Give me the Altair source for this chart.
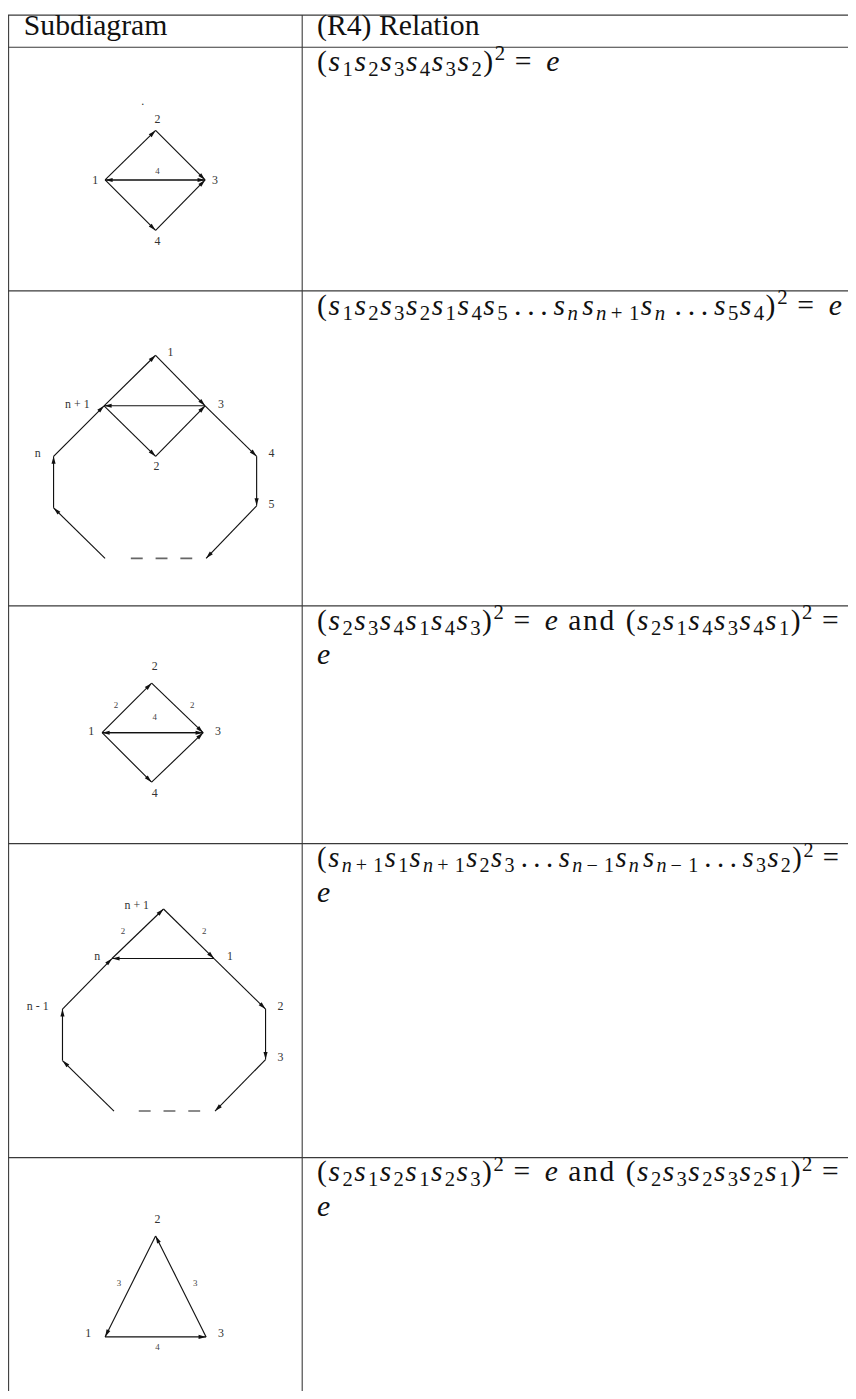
import math
import re
import altair as alt
import pandas as pd

# ---------------- table frame (page pixels) ----------------
ROW_LINES = [41, 287, 605, 845, 1162]          # rules under header and rows 1-4
TABLE_TOP = 8.6
TABLE_LEFT = 8.6
COL_DIVIDER = 305
TABLE_RIGHT = 870
TABLE_BOTTOM = 1400

HEADERS = ["Subdiagram", "(R4) Relation"]
HEADER_X = [24, 320]
HEADER_BASELINE = 29

# ---------------- relations (right column) ----------------
RELATIONS = [
    [r"(s_1s_2s_3s_4s_3s_2)^2 = e"],
    [r"(s_1s_2s_3s_2s_1s_4s_5\ldots s_ns_{n+1}s_n\ldots s_5s_4)^2 = e"],
    [r"(s_2s_3s_4s_1s_4s_3)^2 = e\text{ and }(s_2s_1s_4s_3s_4s_1)^2 =", "e"],
    [r"(s_{n+1}s_1s_{n+1}s_2s_3\ldots s_{n-1}s_ns_{n-1}\ldots s_3s_2)^2 =", "e"],
    [r"(s_2s_1s_2s_1s_2s_3)^2 = e\text{ and }(s_2s_3s_2s_3s_2s_1)^2 =", "e"],
]
REL_X = 320
REL_RIGHT = 853

# ---------------- diagrams (left column) ----------------
D1_NODES = {"1": (106, 175), "2": (157, 125), "3": (207, 175), "4": (157, 226)}
D1_EDGES = [("1", "2"), ("2", "3"), ("1", "4"), ("4", "3"), ("3", "1"), ("1", "3")]
D1_NODE_LABELS = [("1", 96, 175), ("2", 159, 114), ("3", 217, 175), ("4", 159, 237), (".", 144, 95)]
D1_EDGE_LABELS = [("4", 159, 166)]

D2_NODES = {"1": (157, 352), "n+1": (105, 403), "3": (207, 403), "2": (157, 454),
            "4": (259, 454), "5": (259, 504), "n": (54, 454), "a": (54, 506),
            "b": (106, 557), "c": (208, 557)}
D2_EDGES = [("n+1", "1"), ("1", "3"), ("3", "4"), ("4", "5"), ("5", "c"), ("b", "a"),
            ("a", "n"), ("n", "n+1"), ("3", "n+1"), ("n+1", "2"), ("2", "3")]
D2_NODE_LABELS = [("1", 172, 349), ("n + 1", 78, 401), ("3", 223, 401), ("2", 158, 464),
                  ("4", 274, 451), ("5", 274, 502), ("n", 38, 451)]
D2_EDGE_LABELS = []
D2_GAP = (132, 195, 557)

D3_NODES = {"1": (103, 733), "2": (153, 683), "3": (205, 733), "4": (153, 783)}
D3_EDGES = [("1", "2"), ("2", "3"), ("3", "1"), ("1", "3"), ("1", "4"), ("4", "3")]
D3_NODE_LABELS = [("1", 92, 731), ("2", 156, 666), ("3", 220, 731), ("4", 156, 794)]
D3_EDGE_LABELS = [("4", 156, 717), ("2", 117, 705), ("2", 194, 705)]

D4_NODES = {"n+1": (165, 911), "1": (216, 961), "n": (113, 961), "2": (268, 1012),
            "3": (268, 1063), "n-1": (63, 1012), "a": (63, 1064), "b": (115, 1115),
            "c": (217, 1115)}
D4_EDGES = [("n", "n+1"), ("n+1", "1"), ("1", "n"), ("1", "2"), ("2", "3"), ("3", "c"),
            ("b", "a"), ("a", "n-1"), ("n-1", "n")]
D4_NODE_LABELS = [("n + 1", 138, 907), ("n", 98, 958), ("1", 232, 958), ("n - 1", 38, 1009),
                  ("2", 283, 1009), ("3", 283, 1060)]
D4_EDGE_LABELS = [("2", 124, 933), ("2", 206, 933)]
D4_GAP = (140, 203, 1115)

D5_NODES = {"2": (157, 1241), "1": (106, 1343), "3": (208, 1343)}
D5_EDGES = [("2", "1"), ("3", "2"), ("1", "3")]
D5_NODE_LABELS = [("2", 159, 1224), ("1", 89, 1339), ("3", 223, 1339)]
D5_EDGE_LABELS = [("3", 120, 1289), ("3", 197, 1289), ("4", 159, 1353)]

DIAGRAMS = [
    (D1_NODES, D1_EDGES, D1_NODE_LABELS, D1_EDGE_LABELS),
    (D2_NODES, D2_EDGES, D2_NODE_LABELS, D2_EDGE_LABELS),
    (D3_NODES, D3_EDGES, D3_NODE_LABELS, D3_EDGE_LABELS),
    (D4_NODES, D4_EDGES, D4_NODE_LABELS, D4_EDGE_LABELS),
    (D5_NODES, D5_EDGES, D5_NODE_LABELS, D5_EDGE_LABELS),
]
GAPS = [D2_GAP, D4_GAP]

SERIF = "'Liberation Serif', 'Times New Roman', 'DejaVu Serif', serif"

# ---------------- build tables ----------------
table_rows = [dict(x=8, x2=TABLE_RIGHT, y=TABLE_TOP, y2=TABLE_TOP)]
for yl in ROW_LINES:
    table_rows.append(dict(x=8, x2=TABLE_RIGHT, y=yl, y2=yl))
table_rows.append(dict(x=TABLE_LEFT, x2=TABLE_LEFT, y=TABLE_TOP, y2=TABLE_BOTTOM))
table_rows.append(dict(x=COL_DIVIDER, x2=COL_DIVIDER, y=TABLE_TOP, y2=TABLE_BOTTOM))
table_df = pd.DataFrame(table_rows)

edge_rows, node_lab, edge_lab = [], [], []
for nodes, edges, nlabels, elabels in DIAGRAMS:
    for a, b in edges:
        (x1, y1), (x2, y2) = nodes[a], nodes[b]
        ang = math.degrees(math.atan2(x2 - x1, -(y2 - y1))) % 360
        edge_rows.append(dict(x=x1, y=y1, x2=x2, y2=y2, angle=ang))
    node_lab += [dict(t=t, x=x, y=y) for t, x, y in nlabels]
    edge_lab += [dict(t=t, x=x, y=y) for t, x, y in elabels]
edge_df = pd.DataFrame(edge_rows)
node_df = pd.DataFrame(node_lab)
elab_df = pd.DataFrame(edge_lab)
gap_df = pd.DataFrame([dict(x=a, x2=b, y=y) for a, b, y in GAPS])
head_df = pd.DataFrame([dict(t=t, x=x, y=HEADER_BASELINE) for t, x in zip(HEADERS, HEADER_X)])

# ---------------- math typesetting (TeX-like advances) ----------------
F0 = 30.0
ROMAN_W = {"(": .389, ")": .389, "=": .778, ".": .278, "a": .5, "n": .556, "d": .556}
ITALIC_W = {"s": .469, "e": .466}
SCRIPT_W = {"n": .494, "+": .614, "-": .614}
DIGIT_SCRIPT_W = .398
THIN, THICK, SPACE = 1 / 6, 5 / 18, .333
SUB_DROP, SUP_RAISE, SCRIPT = .17, .36, .7
TOKEN = re.compile(r"\\text\{([^}]*)\}|\\ldots|s_\{([^}]*)\}|s_(\w)|\^(\d)|([()=e])|\s+")


def layout(src, x0, y0, F):
    out = []
    pos = [x0]

    def put(ch, w, italic, scale=1.0, dy=0.0):
        out.append(dict(t=ch, x=pos[0], y=y0 + dy * F, size=F * scale, italic=italic))
        pos[0] += w * F

    for m in TOKEN.finditer(src):
        tok = m.group(0)
        text, subg, sub1, sup, sym = m.groups()
        if text is not None:
            for ch in text:
                if ch == " ":
                    pos[0] += SPACE * F
                else:
                    put(ch, ROMAN_W.get(ch, .5), False)
        elif tok == r"\ldots":
            pos[0] += THIN * F
            for i in range(3):
                put(".", ROMAN_W["."], False)
                pos[0] += THIN * F
        elif subg is not None or sub1 is not None:
            sub = subg if subg is not None else sub1
            put("s", ITALIC_W["s"], True)
            for ch in sub:
                if ch.isdigit():
                    put(ch, DIGIT_SCRIPT_W, False, SCRIPT, SUB_DROP)
                elif ch.isalpha():
                    put(ch, SCRIPT_W.get(ch, .45), True, SCRIPT, SUB_DROP)
                else:
                    put("\u2212" if ch == "-" else ch, SCRIPT_W.get(ch, .6), False, SCRIPT, SUB_DROP)
        elif sup is not None:
            put(sup, DIGIT_SCRIPT_W, False, SCRIPT, -SUP_RAISE)
        elif sym is not None:
            if sym == "=":
                pos[0] += THICK * F
                put("=", ROMAN_W["="], False)
                pos[0] += THICK * F
            elif sym == "e":
                put("e", ITALIC_W["e"], True)
            else:
                put(sym, ROMAN_W[sym], False)
    # strip trailing relation space from the measured end
    end = pos[0] - (THICK * F if src.rstrip().endswith("=") else 0)
    return out, end


glyphs = []
for top, lines in zip(ROW_LINES, RELATIONS):
    for k, line in enumerate(lines):
        y0 = top + 24 + 35 * k
        g, end = layout(line, REL_X, y0, F0)
        if end > REL_RIGHT:                       # keep the line inside the page
            g, end = layout(line, REL_X, y0, F0 * (REL_RIGHT - REL_X) / (end - REL_X))
        glyphs += g
glyph_df = pd.DataFrame(glyphs)
ital_df = glyph_df[glyph_df["italic"]]
rom_df = glyph_df[~glyph_df["italic"]]

# ---------------- chart ----------------
xs = alt.Scale(domain=[8, 856], nice=False, zero=False)
ys = alt.Scale(domain=[8, 1391], nice=False, zero=False, reverse=True)


def X(f="x"):
    return alt.X(f"{f}:Q", scale=xs, axis=None)


def Y(f="y"):
    return alt.Y(f"{f}:Q", scale=ys, axis=None)


table = alt.Chart(table_df).mark_rule(color="#3a3a3a", strokeWidth=1.1).encode(
    x=X(), y=Y(), x2=alt.X2("x2"), y2=alt.Y2("y2"))

edges = alt.Chart(edge_df).mark_rule(color="#111", strokeWidth=1.15).encode(
    x=X(), y=Y(), x2=alt.X2("x2"), y2=alt.Y2("y2"))

arrows = alt.Chart(edge_df).mark_point(
    shape="M0,0L-0.6,2.2L0.6,2.2Z", filled=True, size=48, color="#111",
    opacity=1, strokeWidth=0).encode(
    x=X("x2"), y=Y("y2"), angle=alt.Angle("angle:Q", scale=None))

gaps = alt.Chart(gap_df).mark_rule(color="#666", strokeWidth=1.6, strokeDash=[12, 13]).encode(
    x=X(), x2=alt.X2("x2"), y=Y())

nlabels = alt.Chart(node_df).mark_text(
    font=SERIF, fontSize=12, color="#333", align="center", baseline="middle").encode(
    x=X(), y=Y(), text="t:N")

elabels = alt.Chart(elab_df).mark_text(
    font=SERIF, fontSize=9, color="#444", align="center", baseline="middle").encode(
    x=X(), y=Y(), text="t:N")

headers = alt.Chart(head_df).mark_text(
    font=SERIF, fontSize=30, color="#111", align="left", baseline="alphabetic").encode(
    x=X(), y=Y(), text="t:N")

math_it = alt.Chart(ital_df).mark_text(
    font=SERIF, fontStyle="italic", color="#111", align="left",
    baseline="alphabetic").encode(
    x=X(), y=Y(), text="t:N", size=alt.Size("size:Q", scale=None))

math_rm = alt.Chart(rom_df).mark_text(
    font=SERIF, color="#111", align="left", baseline="alphabetic").encode(
    x=X(), y=Y(), text="t:N", size=alt.Size("size:Q", scale=None))

chart = alt.layer(table, edges, gaps, arrows, nlabels, elabels, headers, math_it, math_rm).properties(
    width=848, height=1383, padding=0, autosize="none", background="white"
).configure_view(strokeWidth=0)

chart.save("out.html", embed_options={"renderer": "svg", "actions": False})
